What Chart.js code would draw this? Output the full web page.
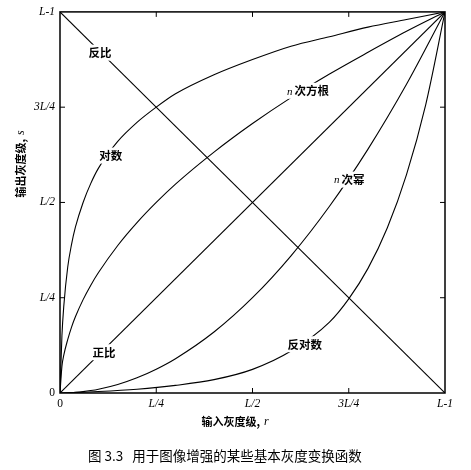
<!DOCTYPE html>
<html>
<head>
<meta charset="utf-8">
<script src="https://cdn.jsdelivr.net/npm/chart.js@4/dist/chart.umd.min.js"></script>
<style>
html,body{margin:0;padding:0;background:#fff;}
#wrap{width:471px;height:470px;}
</style>
</head>
<body>
<div id="wrap"><canvas id="c" width="471" height="470"></canvas></div>
<script>
// ---- data ----
const tickValues = [0, 0.25, 0.5, 0.75, 1];
const tickLabels = ['0', 'L/4', 'L/2', '3L/4', 'L-1'];

const rFine   = [0, 0.005, 0.01, 0.02, 0.03, 0.04, 0.06, 0.08, 0.1, 0.15, 0.2, 0.25, 0.3, 0.4, 0.5, 0.6, 0.7, 0.8, 0.9, 1];
const logS    = [0, 0.15, 0.23, 0.33, 0.39, 0.435, 0.50, 0.55, 0.59, 0.66, 0.71, 0.75, 0.785, 0.835, 0.875, 0.91, 0.935, 0.96, 0.98, 1];
const rootS   = [0, 0.07, 0.10, 0.14, 0.173, 0.20, 0.245, 0.283, 0.316, 0.387, 0.447, 0.5, 0.548, 0.632, 0.707, 0.775, 0.837, 0.894, 0.949, 1];
const powerS  = [0, 0, 0.0001, 0.0004, 0.0009, 0.0016, 0.0036, 0.0064, 0.01, 0.0225, 0.04, 0.0625, 0.09, 0.16, 0.25, 0.36, 0.49, 0.64, 0.81, 1];

const rCoarse = [0, 0.1, 0.2, 0.3, 0.4, 0.5, 0.6, 0.7, 0.75, 0.8, 0.85, 0.9, 0.95, 1];
const invLogS = [0, 0.004, 0.01, 0.02, 0.035, 0.062, 0.11, 0.186, 0.247, 0.327, 0.433, 0.573, 0.757, 1];

const rLine   = [0, 1];
const identS  = [0, 1];
const negS    = [1, 0];

const curveLabels = ['反比', '对数', 'n次方根', 'n次幂', '正比', '反对数'];
const labelR      = [0.104, 0.132, 0.644, 0.751, 0.114, 0.636];
const labelS      = [0.893, 0.623, 0.793, 0.560, 0.107, 0.128];

const xTitle = ['输入灰度级,', 'r'];
const yTitle = ['输出灰度级,', 's'];
const caption = '图 3.3   用于图像增强的某些基本灰度变换函数';

// ---- build datasets ----
function pts(xs, ys){ return xs.map((x,i)=>({x:x, y:ys[i]})); }
const lineStyle = {showLine:true, borderColor:'#000', borderWidth:1.1, pointRadius:0, fill:false, cubicInterpolationMode:'monotone'};
const datasets = [
  Object.assign({label:'反比', data:pts(rLine, negS)}, lineStyle),
  Object.assign({label:'正比', data:pts(rLine, identS)}, lineStyle),
  Object.assign({label:'对数', data:pts(rFine, logS)}, lineStyle),
  Object.assign({label:'n次方根', data:pts(rFine, rootS)}, lineStyle),
  Object.assign({label:'n次幂', data:pts(rFine, powerS)}, lineStyle),
  Object.assign({label:'反对数', data:pts(rCoarse, invLogS)}, lineStyle)
];

const CJK = '"Noto Sans CJK SC", "Noto Sans", sans-serif';
const SERIF = '"Liberation Serif", "DejaVu Serif", serif';

function mixedTitle(ctx, parts, cx, cy){
  ctx.font = 'bold 11px ' + CJK;
  const w1 = ctx.measureText(parts[0]).width;
  ctx.font = 'italic 12px ' + SERIF;
  const w2 = ctx.measureText(parts[1]).width;
  const total = w1 + 4 + w2;
  const x0 = cx - total / 2;
  ctx.textAlign = 'left';
  ctx.font = 'bold 11px ' + CJK;
  ctx.fillText(parts[0], x0, cy);
  ctx.font = 'italic 12px ' + SERIF;
  ctx.fillText(parts[1], x0 + w1 + 4, cy);
}

const decor = {
  id:'decor',
  afterDatasetsDraw(chart){
    const ctx = chart.ctx, xs = chart.scales.x, ys = chart.scales.y;
    const a = chart.chartArea;
    ctx.save();
    ctx.strokeStyle = '#000';
    ctx.lineWidth = 1.5;
    ctx.strokeRect(a.left, a.top, a.right - a.left, a.bottom - a.top);
    ctx.lineWidth = 1;
    const tl = 5;
    tickValues.forEach(v => {
      if (v === 0 || v === 1) return;
      const px = xs.getPixelForValue(v), py = ys.getPixelForValue(v);
      ctx.beginPath();
      ctx.moveTo(px, a.bottom); ctx.lineTo(px, a.bottom - tl);
      ctx.moveTo(px, a.top); ctx.lineTo(px, a.top + tl);
      ctx.moveTo(a.left, py); ctx.lineTo(a.left + tl, py);
      ctx.moveTo(a.right, py); ctx.lineTo(a.right - tl, py);
      ctx.stroke();
    });
    ctx.textBaseline = 'middle';
    curveLabels.forEach((t, i) => {
      const cx = xs.getPixelForValue(labelR[i]);
      const cy = ys.getPixelForValue(labelS[i]);
      let pre = '', body = t;
      if (t.charAt(0) === 'n') { pre = 'n'; body = t.slice(1); }
      ctx.font = 'italic 11px ' + SERIF;
      const wPre = pre ? ctx.measureText(pre).width + 2 : 0;
      ctx.font = 'bold 11.5px ' + CJK;
      const wBody = ctx.measureText(body).width;
      const w = wPre + wBody;
      const x0 = cx - w / 2;
      ctx.fillStyle = '#fff';
      ctx.fillRect(x0 - 3, cy - 8, w + 6, 16);
      ctx.fillStyle = '#000';
      ctx.textAlign = 'left';
      if (pre) {
        ctx.font = 'italic 11px ' + SERIF;
        ctx.fillText(pre, x0, cy + 1);
      }
      ctx.font = 'bold 11.5px ' + CJK;
      ctx.fillText(body, x0 + wPre, cy);
    });
    mixedTitle(ctx, xTitle, 235, 422);
    ctx.save();
    ctx.translate(21, 164);
    ctx.rotate(-Math.PI / 2);
    mixedTitle(ctx, yTitle, 0, 0);
    ctx.restore();
    ctx.font = '13.5px ' + CJK;
    ctx.textAlign = 'left';
    ctx.fillText(caption, 88, 456);
    ctx.restore();
  }
};

const tickFont = (c) => ({family: SERIF, size: 11.5, style: (c.tick && c.tick.value === 0) ? 'normal' : 'italic'});

new Chart(document.getElementById('c'), {
  type: 'scatter',
  data: {datasets: datasets},
  options: {
    responsive: false,
    animation: false,
    devicePixelRatio: 1,
    layout: {padding: {top: 11, right: 26, left: 0, bottom: 0}},
    plugins: {legend: {display: false}, tooltip: {enabled: false}, title: {display: false}},
    scales: {
      x: {
        type: 'linear', min: 0, max: 1,
        grid: {display: false, drawTicks: false},
        border: {display: false},
        afterBuildTicks: (s) => { s.ticks = tickValues.map(v => ({value: v})); },
        afterFit: (s) => { s.height = 77; },
        ticks: {padding: 4, color: '#000', font: tickFont, maxRotation: 0, autoSkip: false,
          callback: (v) => { const i = tickValues.indexOf(v); return i >= 0 ? tickLabels[i] : ''; }}
      },
      y: {
        type: 'linear', min: 0, max: 1,
        grid: {display: false, drawTicks: false},
        border: {display: false},
        afterBuildTicks: (s) => { s.ticks = tickValues.map(v => ({value: v})); },
        afterFit: (s) => { s.width = 60; },
        ticks: {padding: 5, color: '#000', font: tickFont, autoSkip: false,
          callback: (v) => { const i = tickValues.indexOf(v); return i >= 0 ? tickLabels[i] : ''; }}
      }
    }
  },
  plugins: [decor]
});
</script>
</body>
</html>
